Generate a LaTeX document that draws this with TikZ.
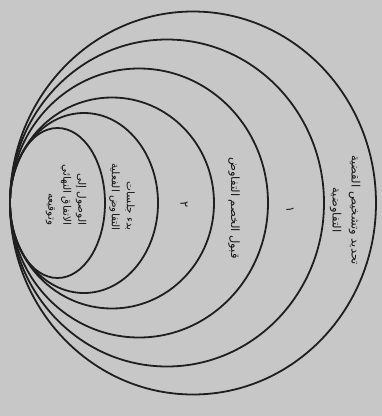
\documentclass[tikz,border=0pt]{standalone}
\usepackage{fontspec}
\newfontfamily\arabicfont[Script=Arabic]{DejaVu Sans}
\TeXXeTstate=1
\begin{document}
\begin{tikzpicture}[x=1pt, y=-1pt,
    ring/.style={draw=black!88, line width=1.8pt},
    lbl/.style={rotate=-90, align=right, text=black!90, inner sep=0pt,
        font=\arabicfont\fontsize{10.5}{15}\selectfont},
    biglbl/.style={lbl, font=\arabicfont\fontsize{11.5}{19}\selectfont}]
    % Fondo
    \fill[black!22] (0,0) rectangle (382,416);
    \useasboundingbox (0,0) rectangle (382,416);
    % Elipses tangentes a la izquierda
    \foreach \rx/\ry in {47.5/75, 74/90, 102/105.5, 129/134.5, 157/163.5, 183/191.5} {
        \draw[ring] (10+\rx,203) ellipse [x radius=\rx pt, y radius=\ry pt];
    }
    % Etiquetas
    \node[lbl] (goal) at (66,195)
        {\beginR الوصول إلى\endR\\\beginR الاتفاق النهائي\endR\\\beginR وتوقيعه\endR};
    \node[lbl] (sessions) at (122,197)
        {\beginR بدء جلسات\endR\\\beginR التفاوض الفعلية\endR};
    \node[biglbl] (two) at (184,205) {٢};
    \node[biglbl] (accept) at (234,208) {\beginR قبول الخصم التفاوض\endR};
    \node[biglbl] (one) at (290,210) {١};
    \node[biglbl, align=center] (issue) at (345,210)
        {\beginR تحديد وتشخيص القضية\endR\\\beginR التفاوضية\endR};
\end{tikzpicture}
\end{document}
